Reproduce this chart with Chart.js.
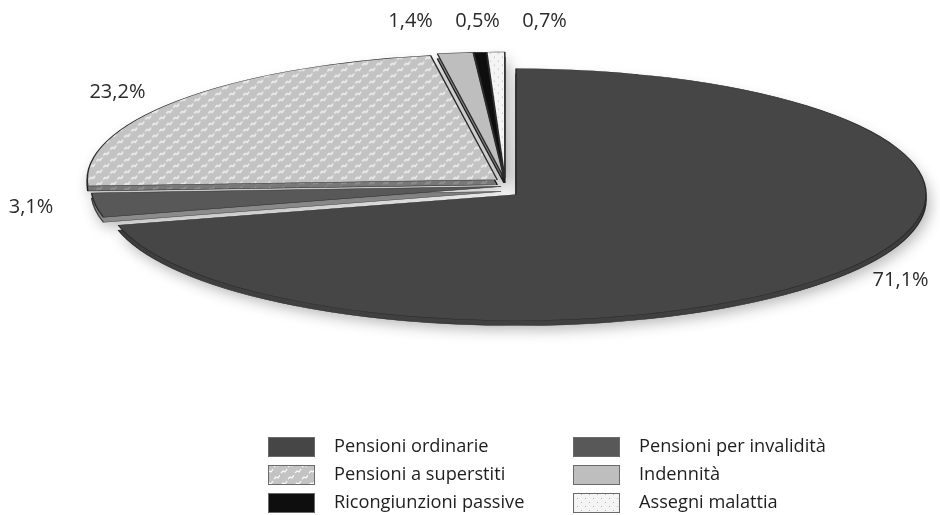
<!DOCTYPE html>
<html>
<head>
<meta charset="utf-8">
<script src="https://cdn.jsdelivr.net/npm/chart.js@4.4.1/dist/chart.umd.min.js"></script>
<style>
  html, body { margin: 0; padding: 0; background: #fff; }
  #wrap { width: 940px; height: 515px; }
</style>
</head>
<body>
<div id="wrap"><canvas id="chart" width="940" height="515"></canvas></div>
<script>
// data
const categories = [
  "Pensioni ordinarie",
  "Pensioni per invalidità",
  "Pensioni a superstiti",
  "Indennità",
  "Ricongiunzioni passive",
  "Assegni malattia",
];
const shares = [71.1, 3.1, 23.2, 1.4, 0.5, 0.7];
const shareLabels = shares.map((v) => v.toFixed(1).replace(".", ",") + "%");

// -------------------------
// Fills
// -------------------------
function makeTile(w, h, paint) {
  const c = document.createElement("canvas");
  c.width = w;
  c.height = h;
  const g = c.getContext("2d");
  paint(g);
  return g.createPattern(c, "repeat");
}

const superstitiFill = makeTile(14, 12, (g) => {
  g.fillStyle = "#c3c3c3";
  g.fillRect(0, 0, 14, 12);
  g.strokeStyle = "rgba(255,255,255,0.9)";
  g.lineWidth = 1.3;
  const mark = (ox, oy) => {
    g.beginPath();
    g.moveTo(ox + 1, oy + 5);
    g.lineTo(ox + 3, oy + 3);
    g.lineTo(ox + 5, oy + 4);
    g.lineTo(ox + 7, oy + 1);
    g.stroke();
  };
  mark(0, 0);
  mark(7, 6);
});

const assegniFill = makeTile(8, 8, (g) => {
  g.fillStyle = "#f4f4f4";
  g.fillRect(0, 0, 8, 8);
  g.fillStyle = "#b5b5b5";
  g.fillRect(1, 2, 1, 1);
  g.fillRect(5, 6, 1, 1);
});

const colors = ["#464646", "#585858", superstitiFill, "#bebebe", "#0e0e0e", assegniFill];

// -------------------------
// Flattened pie geometry
// -------------------------
const ellipse = { cx: 505, cy: 186, rx: 410, ry: 126 };
const explode = [14, 4, 10, 8, 8, 8];
const depth = 5;
const depthShade = [0.92, 1.6, 0.62, 0.7, 1.0, 0.75];

const flatPie = {
  id: "flatPie",
  beforeDatasetsDraw(chart) {
    const ctx = chart.ctx;
    const arcs = chart.getDatasetMeta(0).data;
    const R = arcs[0].outerRadius;
    const sx = ellipse.rx / R;
    const sy = ellipse.ry / R;
    superstitiFill.setTransform(new DOMMatrix().scale(1 / sx, 1 / sy));
    assegniFill.setTransform(new DOMMatrix().scale(1 / sx, 1 / sy));

    const place = (arc, i, dy) => {
      const mid = (arc.startAngle + arc.endAngle) / 2;
      ctx.translate(
        ellipse.cx + Math.cos(mid) * explode[i],
        ellipse.cy + Math.sin(mid) * explode[i] + dy
      );
      ctx.scale(sx, sy);
      ctx.translate(-arc.x, -arc.y);
    };

    // side / shadow layer
    arcs.forEach((arc, i) => {
      ctx.save();
      place(arc, i, depth);
      ctx.shadowColor = "rgba(0,0,0,0.28)";
      ctx.shadowBlur = 14;
      ctx.shadowOffsetX = 3;
      ctx.shadowOffsetY = 4;
      ctx.filter = `brightness(${depthShade[i]})`;
      arc.draw(ctx);
      ctx.restore();
    });
    // top faces
    arcs.forEach((arc, i) => {
      ctx.save();
      place(arc, i, 0);
      arc.draw(ctx);
      ctx.restore();
    });
    return false;
  },
  afterDraw(chart) {
    const ctx = chart.ctx;
    const arcs = chart.getDatasetMeta(0).data;
    ctx.save();
    ctx.fillStyle = "#2a2a2a";
    ctx.font = '20px "Open Sans"';
    ctx.textAlign = "center";
    ctx.textBaseline = "middle";

    // value labels
    const small = [];
    arcs.forEach((arc, i) => {
      const mid = (arc.startAngle + arc.endAngle) / 2;
      if (shares[i] < 2) {
        small.push({ i, x: ellipse.cx + Math.cos(mid) * ellipse.rx });
        return;
      }
      const x = ellipse.cx + Math.cos(mid) * (ellipse.rx * 1.19 + explode[i]);
      const y = ellipse.cy + Math.sin(mid) * (ellipse.ry * 1.1 + explode[i]);
      ctx.fillText(shareLabels[i], Math.max(x, 31), y);
    });
    const meanX = small.reduce((s, p) => s + p.x, 0) / small.length;
    small.forEach((p, k) => {
      const x = meanX + (k - (small.length - 1) / 2) * 67;
      ctx.fillText(shareLabels[p.i], x, 21);
    });

    // legend, two columns
    superstitiFill.setTransform(new DOMMatrix());
    assegniFill.setTransform(new DOMMatrix());
    const colX = [268, 573];
    const rowY = [437, 465, 493];
    ctx.textAlign = "left";
    ctx.font = '18.2px "Open Sans"';
    categories.forEach((name, i) => {
      const x = colX[i % 2];
      const y = rowY[Math.floor(i / 2)];
      ctx.fillStyle = colors[i];
      ctx.fillRect(x, y, 47, 20);
      ctx.strokeStyle = "#6a6a6a";
      ctx.lineWidth = 1;
      ctx.strokeRect(x + 0.5, y + 0.5, 46, 19);
      ctx.fillStyle = "#1e1e1e";
      ctx.fillText(name, x + 66, y + 10);
    });
    ctx.restore();
  },
};

new Chart(document.getElementById("chart"), {
  type: "pie",
  data: {
    labels: categories,
    datasets: [
      {
        data: shares,
        backgroundColor: colors,
        borderColor: "#2b2b2b",
        borderWidth: 0.9,
        offset: 0,
      },
    ],
  },
  options: {
    responsive: false,
    animation: false,
    events: [],
    layout: { padding: 10 },
    plugins: { legend: { display: false }, tooltip: { enabled: false } },
  },
  plugins: [flatPie],
});
</script>
</body>
</html>
